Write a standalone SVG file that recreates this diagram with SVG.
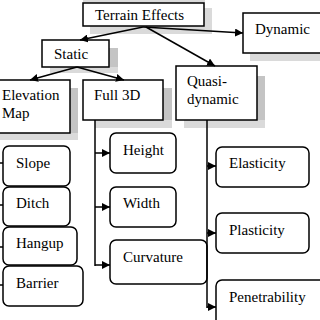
<svg xmlns="http://www.w3.org/2000/svg" width="320" height="320" viewBox="0 0 320 320">
<style>
.box{fill:#fff;stroke:#000;stroke-width:1.5}
.rb{fill:#fff;stroke:#000;stroke-width:1.5}
.sh{fill:#c4c4c4}
.shl{fill:#dadada}
text{font-family:"Liberation Serif","Times New Roman",serif;font-size:15px;fill:#000}
.ln{stroke:#000;stroke-width:1.5;fill:none}
</style>
<defs>
<marker id="ah" viewBox="0 0 10 10" refX="10" refY="5" markerWidth="8" markerHeight="8" markerUnits="userSpaceOnUse" orient="auto">
<path d="M0,0 L10,5 L0,10 z" fill="#000"/>
</marker>
</defs>
<rect width="320" height="320" fill="#fff"/>
<g id="terrain">
<rect class="shl" x="83" y="0" width="122" height="3"/>
<rect class="shl" x="204" y="8" width="8" height="26"/>
<rect class="shl" x="90" y="26" width="122" height="8"/>
<rect class="box" x="83" y="3" width="121" height="23"/>
<text x="95" y="20">Terrain Effects</text>
</g>
<g id="dynamic">
<rect class="shl" x="250" y="53" width="70" height="8"/>
<rect class="box" x="243" y="13" width="80" height="40"/>
<text x="255" y="34">Dynamic</text>
</g>
<g id="static">
<rect class="sh" x="109" y="48" width="9" height="25"/>
<rect class="shl" x="50" y="67" width="68" height="6"/>
<rect class="box" x="42" y="40" width="67" height="27"/>
<text x="54" y="59">Static</text>
</g>
<g id="elevation">
<rect class="sh" x="70" y="88" width="8" height="52"/>
<rect class="shl" x="0" y="133" width="78" height="7"/>
<rect class="box" x="-3" y="80" width="73" height="53"/>
<text x="2" y="100">Elevation</text>
<text x="2" y="118">Map</text>
</g>
<g id="full3d">
<rect class="sh" x="163" y="88" width="9" height="40"/>
<rect class="shl" x="95" y="120" width="77" height="8"/>
<rect class="box" x="83" y="80" width="80" height="40"/>
<text x="94" y="100">Full 3D</text>
</g>
<g id="quasi">
<rect class="sh" x="257" y="76" width="8" height="52"/>
<rect class="shl" x="184" y="120" width="81" height="8"/>
<rect class="box" x="176" y="66" width="81" height="54"/>
<text x="187" y="86">Quasi-</text>
<text x="187" y="104">dynamic</text>
</g>
<g id="slope"><rect class="rb" x="3" y="146" width="67" height="40" rx="6"/><text x="16" y="168">Slope</text></g>
<g id="ditch"><rect class="rb" x="3" y="187" width="67" height="39" rx="6"/><text x="16" y="208">Ditch</text></g>
<g id="hangup"><rect class="rb" x="3" y="227" width="74" height="38" rx="6"/><text x="16" y="248">Hangup</text></g>
<g id="barrier"><rect class="rb" x="3" y="266" width="80" height="40" rx="6"/><text x="16" y="288">Barrier</text></g>
<g id="height"><rect class="rb" x="110" y="133" width="66" height="40" rx="6"/><text x="123" y="155">Height</text></g>
<g id="width"><rect class="rb" x="110" y="187" width="66" height="40" rx="6"/><text x="123" y="208">Width</text></g>
<g id="curvature"><rect class="rb" x="110" y="240" width="97" height="44" rx="6"/><text x="123" y="262">Curvature</text></g>
<g id="elasticity"><rect class="rb" x="216" y="147" width="93" height="40" rx="6"/><text x="229" y="168">Elasticity</text></g>
<g id="plasticity"><rect class="rb" x="216" y="213" width="93" height="40" rx="6"/><text x="229" y="235">Plasticity</text></g>
<g id="penetrability"><rect class="rb" x="216" y="280" width="110" height="50" rx="6"/><text x="229" y="302">Penetrability</text></g>
<g id="connectors">
<line class="ln" x1="143" y1="27" x2="80" y2="40" marker-end="url(#ah)"/>
<line class="ln" x1="143" y1="27" x2="243" y2="33" marker-end="url(#ah)"/>
<line class="ln" x1="146" y1="27" x2="215" y2="66" marker-end="url(#ah)"/>
<line class="ln" x1="77" y1="67" x2="30" y2="80" marker-end="url(#ah)"/>
<line class="ln" x1="77" y1="67" x2="124" y2="80" marker-end="url(#ah)"/>
<line class="ln" x1="95" y1="120" x2="95" y2="266"/>
<line class="ln" x1="95" y1="153" x2="110" y2="153" marker-end="url(#ah)"/>
<line class="ln" x1="95" y1="207" x2="110" y2="207" marker-end="url(#ah)"/>
<line class="ln" x1="95" y1="265" x2="110" y2="265" marker-end="url(#ah)"/>
<line class="ln" x1="207" y1="120" x2="207" y2="308"/>
<line class="ln" x1="207" y1="166" x2="216" y2="166" marker-end="url(#ah)"/>
<line class="ln" x1="207" y1="233" x2="216" y2="233" marker-end="url(#ah)"/>
<line class="ln" x1="207" y1="307" x2="216" y2="307" marker-end="url(#ah)"/>
<line class="ln" x1="0" y1="163" x2="3" y2="163"/>
<line class="ln" x1="0" y1="205" x2="3" y2="205"/>
<line class="ln" x1="0" y1="247" x2="3" y2="247"/>
<line class="ln" x1="0" y1="285" x2="3" y2="285"/>
</g>
</svg>
